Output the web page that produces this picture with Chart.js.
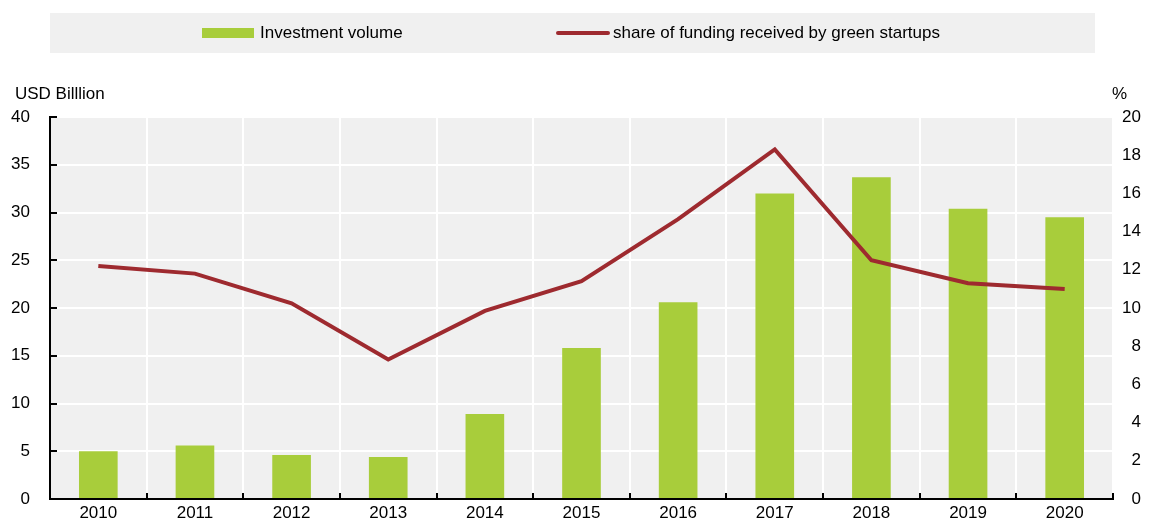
<!DOCTYPE html>
<html>
<head>
<meta charset="utf-8">
<script src="https://cdn.jsdelivr.net/npm/chart.js@4/dist/chart.umd.min.js"></script>
<style>
  html, body { margin: 0; padding: 0; background: #fff; }
  #wrap { width: 1153px; height: 527px; position: relative; }
</style>
</head>
<body>
<div id="wrap"><canvas id="staafdiagram"></canvas></div>
<script>
// data
const years = ['2010', '2011', '2012', '2013', '2014', '2015', '2016', '2017', '2018', '2019', '2020'];
const investment = [5.0, 5.6, 4.6, 4.4, 8.9, 15.8, 20.6, 32.0, 33.7, 30.4, 29.5];
const shareGreen = [12.2, 11.8, 10.25, 7.3, 9.85, 11.4, 14.65, 18.3, 12.5, 11.3, 11.0];
const leftAxis = { min: 0, max: 40, step: 5 };
const rightAxis = { min: 0, max: 20, step: 2 };
const leftUnit = 'USD Billlion';
const rightUnit = '%';

const FONT = "'Liberation Sans', Arial, sans-serif";
const GREEN = '#A8CD3B';
const RED = '#9E2A2F';

Chart.defaults.font.family = FONT;
Chart.defaults.font.size = 17;
Chart.defaults.color = '#000';

// grijze achtergrond van het plotvlak
const plotBackground = {
  id: 'plotBackground',
  beforeDraw(chart) {
    const { ctx, chartArea: a } = chart;
    ctx.save();
    ctx.fillStyle = '#F0F0F0';
    ctx.fillRect(a.left, a.top, a.right - a.left, a.bottom - a.top);
    ctx.restore();
  }
};

// kleine streepjes naar binnen op de assen + eenheden
const axisMarks = {
  id: 'axisMarks',
  afterDraw(chart) {
    const { ctx, chartArea: a, scales: { x, y } } = chart;
    ctx.save();
    ctx.strokeStyle = '#000';
    ctx.lineWidth = 2;
    y.ticks.forEach((t, i) => {
      const py = Math.round(y.getPixelForTick(i));
      ctx.beginPath();
      ctx.moveTo(a.left, py);
      ctx.lineTo(a.left + 7, py);
      ctx.stroke();
    });
    for (let i = 1; i <= years.length; i++) {
      const px = Math.round(x.getPixelForValue(i - 0.5));
      ctx.beginPath();
      ctx.moveTo(px, a.bottom);
      ctx.lineTo(px, a.bottom - 6);
      ctx.stroke();
    }
    ctx.fillStyle = '#000';
    ctx.font = '17px ' + FONT;
    ctx.textBaseline = 'alphabetic';
    ctx.textAlign = 'left';
    ctx.fillText(leftUnit, 15, 99);
    ctx.fillText(rightUnit, a.right - 1, 99);
    ctx.restore();
  }
};

// legenda in een grijze balk
const legendBox = {
  id: 'legendBox',
  afterDraw(chart) {
    const { ctx, chartArea: a } = chart;
    const top = 13, bottom = 53, mid = (top + bottom) / 2;
    ctx.save();
    ctx.fillStyle = '#F0F0F0';
    ctx.fillRect(a.left, top, 1095 - a.left, bottom - top);
    ctx.font = '17px ' + FONT;
    ctx.textBaseline = 'middle';
    ctx.textAlign = 'left';
    const sw = 52, gap = 6;
    const ds = chart.data.datasets;
    const bar = ds.find(d => d.type === 'bar');
    const line = ds.find(d => d.type === 'line');
    let x0 = 202;
    ctx.fillStyle = bar.backgroundColor;
    ctx.fillRect(x0, mid - 5, sw, 10);
    ctx.fillStyle = '#000';
    ctx.fillText(bar.label, x0 + sw + gap, mid);
    x0 = 556;
    ctx.strokeStyle = line.borderColor;
    ctx.lineWidth = 4;
    ctx.lineCap = 'round';
    ctx.beginPath();
    ctx.moveTo(x0 + 2, mid);
    ctx.lineTo(x0 + sw, mid);
    ctx.stroke();
    ctx.fillText(line.label, x0 + sw + 5, mid);
    ctx.restore();
  }
};

function investeringen() {
  const ctx = document.getElementById('staafdiagram');
  new Chart(ctx, {
    data: {
      labels: years,
      datasets: [{
        type: 'line',
        label: 'share of funding received by green startups',
        data: shareGreen,
        yAxisID: 'y1',
        borderColor: RED,
        backgroundColor: RED,
        borderWidth: 4,
        pointRadius: 0,
        tension: 0,
        order: 0
      }, {
        type: 'bar',
        label: 'Investment volume',
        data: investment,
        yAxisID: 'y',
        backgroundColor: GREEN,
        barPercentage: 0.4,
        categoryPercentage: 1,
        order: 1
      }]
    },
    options: {
      responsive: true,
      maintainAspectRatio: false,
      animation: false,
      layout: { padding: { top: 117, right: 12, bottom: 0, left: 0 } },
      scales: {
        x: { // X-as
          z: 1,
          offset: true,
          grid: { offset: true, color: '#FFFFFF', lineWidth: 2, drawTicks: false },
          border: { display: true, color: '#000', width: 2 },
          ticks: { padding: 4, maxRotation: 0 },
          afterFit(s) { s.height = 28; }
        },
        y: { // linker as
          position: 'left',
          min: leftAxis.min,
          max: leftAxis.max,
          ticks: { stepSize: leftAxis.step, padding: 20 },
          grid: { color: '#FFFFFF', lineWidth: 2, drawTicks: false },
          border: { display: true, color: '#000', width: 2 },
          afterFit(s) { s.width = 50; s.paddingBottom = 10; s.paddingTop = 10; }
        },
        y1: { // rechter as
          position: 'right',
          min: rightAxis.min,
          max: rightAxis.max,
          ticks: { stepSize: rightAxis.step, crossAlign: 'far', padding: 8 },
          grid: { display: false, drawTicks: false },
          border: { display: false },
          afterFit(s) { s.width = 28; s.paddingBottom = 10; s.paddingTop = 10; }
        }
      },
      plugins: {
        legend: { display: false },
        tooltip: { enabled: false }
      }
    },
    plugins: [plotBackground, axisMarks, legendBox]
  });
}

window.onload = function() {
  investeringen();
};
</script>
</body>
</html>
